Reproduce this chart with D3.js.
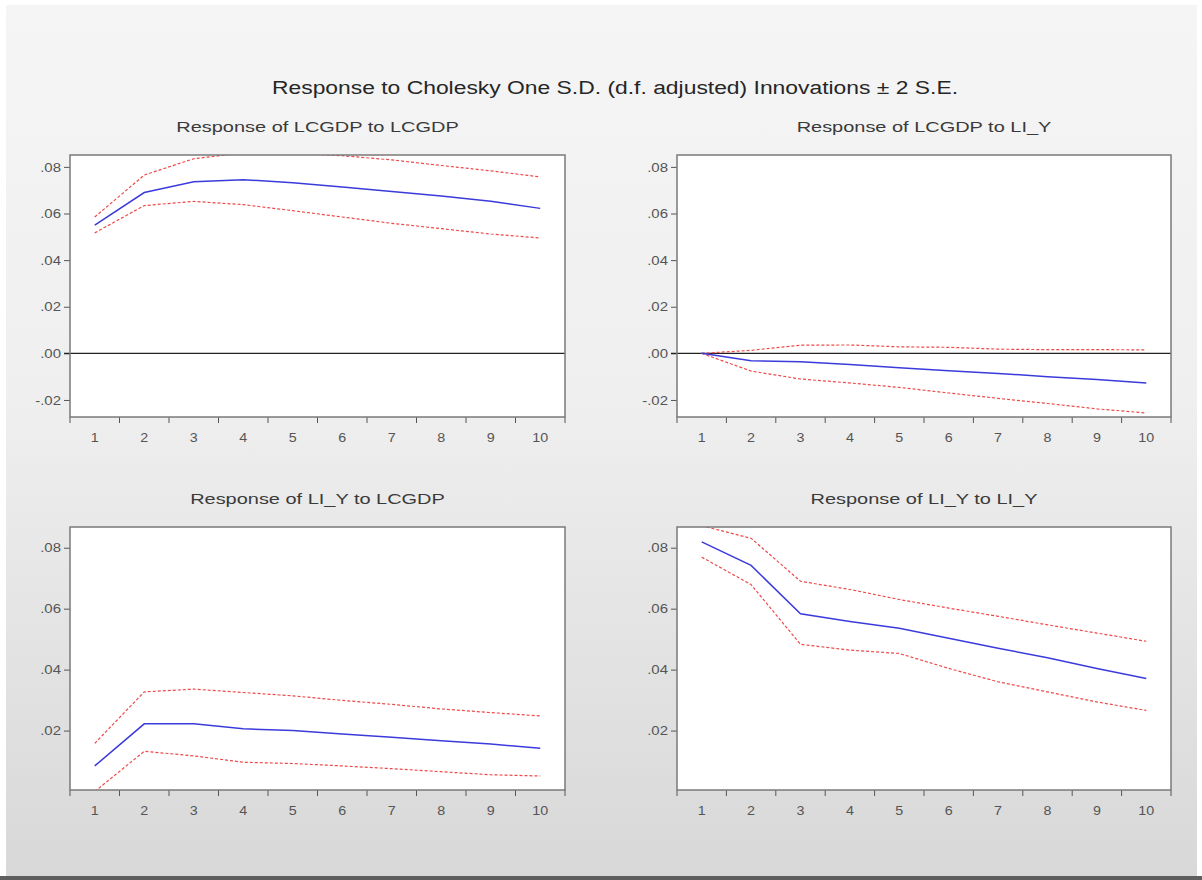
<!DOCTYPE html>
<html>
<head>
<meta charset="utf-8">
<script src="https://cdn.jsdelivr.net/npm/d3@7"></script>
<style>
  html, body { margin: 0; padding: 0; background: #ffffff; }
  svg { display: block; }
  text { font-family: "Liberation Sans", Arial, sans-serif; }
</style>
</head>
<body>
<svg id="chart" width="1202" height="880"></svg>
<script>
// ---------------- DATA ----------------
const periods = [1, 2, 3, 4, 5, 6, 7, 8, 9, 10];

const mainTitle = "Response to Cholesky One S.D. (d.f. adjusted) Innovations \u00b1 2 S.E.";
const panelTitles = [
  "Response of LCGDP to LCGDP",
  "Response of LCGDP to LI_Y",
  "Response of LI_Y to LCGDP",
  "Response of LI_Y to LI_Y"
];

// Response of LCGDP to LCGDP
const respLcgdpLcgdp = [0.0550, 0.0690, 0.0736, 0.0745, 0.0732, 0.0714, 0.0694, 0.0675, 0.0653, 0.0622];
const upperLcgdpLcgdp = [0.0585, 0.0765, 0.0835, 0.0860, 0.0858, 0.0848, 0.0830, 0.0806, 0.0783, 0.0757];
const lowerLcgdpLcgdp = [0.0517, 0.0634, 0.0652, 0.0638, 0.0612, 0.0585, 0.0558, 0.0535, 0.0512, 0.0495];

// Response of LCGDP to LI_Y
const respLcgdpLiy = [0.0000, -0.0032, -0.0036, -0.0048, -0.0062, -0.0075, -0.0086, -0.0100, -0.0112, -0.0127];
const upperLcgdpLiy = [0.0000, 0.0013, 0.0035, 0.0036, 0.0028, 0.0026, 0.0018, 0.0016, 0.0016, 0.0015];
const lowerLcgdpLiy = [0.0000, -0.0076, -0.0110, -0.0127, -0.0146, -0.0170, -0.0193, -0.0215, -0.0238, -0.0256];

// Response of LI_Y to LCGDP
const respLiyLcgdp = [0.0084, 0.0222, 0.0222, 0.0206, 0.0200, 0.0189, 0.0178, 0.0167, 0.0156, 0.0142];
const upperLiyLcgdp = [0.0158, 0.0327, 0.0336, 0.0325, 0.0314, 0.0299, 0.0286, 0.0271, 0.0259, 0.0248];
const lowerLiyLcgdp = [0.0000, 0.0132, 0.0117, 0.0096, 0.0092, 0.0084, 0.0075, 0.0065, 0.0055, 0.0051];

// Response of LI_Y to LI_Y
const respLiyLiy = [0.0819, 0.0742, 0.0583, 0.0558, 0.0536, 0.0503, 0.0470, 0.0439, 0.0404, 0.0371];
const upperLiyLiy = [0.0872, 0.0831, 0.0690, 0.0663, 0.0630, 0.0602, 0.0575, 0.0547, 0.0520, 0.0493];
const lowerLiyLiy = [0.0769, 0.0679, 0.0483, 0.0464, 0.0453, 0.0404, 0.0360, 0.0327, 0.0294, 0.0266];

// Axis settings
const topYDomain = [-0.0273, 0.0851];
const topYTicks = [-0.02, 0.00, 0.02, 0.04, 0.06, 0.08];
const bottomYDomain = [0.0005, 0.0868];
const bottomYTicks = [0.02, 0.04, 0.06, 0.08];

// ---------------- LAYOUT ----------------
const svg = d3.select("#chart");
const W = 1202, H = 880;

// background
const defs = svg.append("defs");
const grad = defs.append("linearGradient").attr("id", "bg").attr("x1", 0).attr("y1", 0).attr("x2", 0).attr("y2", 1);
grad.append("stop").attr("offset", "0%").attr("stop-color", "#f5f5f5");
grad.append("stop").attr("offset", "45%").attr("stop-color", "#efefef");
grad.append("stop").attr("offset", "100%").attr("stop-color", "#d8d8d8");
svg.append("rect").attr("x", 0).attr("y", 0).attr("width", W).attr("height", H).attr("fill", "#ffffff");
svg.append("rect").attr("x", 6).attr("y", 5).attr("width", 1191).attr("height", 871).attr("fill", "url(#bg)");
svg.append("rect").attr("x", 0).attr("y", 876).attr("width", W).attr("height", 4).attr("fill", "#5e5e5e");

function stretchText(sel, factor) {
  sel.each(function () {
    const n = this.getComputedTextLength();
    d3.select(this).attr("textLength", n * factor).attr("lengthAdjust", "spacingAndGlyphs");
  });
}

const fmt = v => {
  const s = d3.format(".2f")(Math.abs(v) < 1e-9 ? 0 : Math.abs(v));
  return (v < -1e-9 ? "-" : "") + s.replace(/^0\./, ".");
};

// main title
svg.append("text")
  .attr("x", 615).attr("y", 94)
  .attr("text-anchor", "middle")
  .attr("font-size", 18)
  .attr("fill", "#262626")
  .text(mainTitle)
  .call(stretchText, 1.27);

const panels = [
  { title: panelTitles[0], x0: 70, x1: 565, y0: 155, y1: 417, dom: topYDomain, ticks: topYTicks, zero: true,
    resp: respLcgdpLcgdp, up: upperLcgdpLcgdp, lo: lowerLcgdpLcgdp },
  { title: panelTitles[1], x0: 677, x1: 1171, y0: 155, y1: 417, dom: topYDomain, ticks: topYTicks, zero: true,
    resp: respLcgdpLiy, up: upperLcgdpLiy, lo: lowerLcgdpLiy },
  { title: panelTitles[2], x0: 70, x1: 565, y0: 527, y1: 790, dom: bottomYDomain, ticks: bottomYTicks, zero: false,
    resp: respLiyLcgdp, up: upperLiyLcgdp, lo: lowerLiyLcgdp },
  { title: panelTitles[3], x0: 677, x1: 1171, y0: 527, y1: 790, dom: bottomYDomain, ticks: bottomYTicks, zero: false,
    resp: respLiyLiy, up: upperLiyLiy, lo: lowerLiyLiy }
];

panels.forEach((p, i) => {
  const g = svg.append("g");
  const x = d3.scaleBand().domain(periods).range([p.x0, p.x1]).padding(0);
  const y = d3.scaleLinear().domain(p.dom).range([p.y1, p.y0]);

  // panel title
  g.append("text")
    .attr("x", (p.x0 + p.x1) / 2).attr("y", p.y0 - 23)
    .attr("text-anchor", "middle")
    .attr("font-size", 15)
    .attr("fill", "#3a3a3a")
    .text(p.title)
    .call(stretchText, 1.33);

  // plot area
  g.append("rect")
    .attr("x", p.x0).attr("y", p.y0)
    .attr("width", p.x1 - p.x0).attr("height", p.y1 - p.y0)
    .attr("fill", "#ffffff");

  const clipId = "clip" + i;
  defs.append("clipPath").attr("id", clipId)
    .append("rect").attr("x", p.x0).attr("y", p.y0)
    .attr("width", p.x1 - p.x0).attr("height", p.y1 - p.y0);

  // y axis
  const yAxis = d3.axisLeft(y).tickValues(p.ticks).tickFormat(fmt).tickSize(6).tickPadding(3);
  const ya = g.append("g").attr("transform", `translate(${p.x0},0)`).call(yAxis);
  ya.select(".domain").remove();
  ya.selectAll(".tick line").attr("stroke", "#555").attr("stroke-width", 1);
  ya.selectAll(".tick text").attr("font-size", 13).attr("fill", "#555")
    .attr("font-family", "'Liberation Sans', Arial, sans-serif")
    .call(stretchText, 1.15);

  // x axis: minor ticks at band edges, labels at band centers
  const edges = periods.map(d => x(d)).concat([p.x1]);
  g.append("g").selectAll("line").data(edges).join("line")
    .attr("x1", d => d).attr("x2", d => d)
    .attr("y1", p.y1).attr("y2", p.y1 + 6)
    .attr("stroke", "#555").attr("stroke-width", 1);
  g.append("g").selectAll("text").data(periods).join("text")
    .attr("x", d => x(d) + x.bandwidth() / 2)
    .attr("y", p.y1 + 25)
    .attr("text-anchor", "middle")
    .attr("font-size", 13)
    .attr("fill", "#555")
    .text(d => d)
    .call(stretchText, 1.1);

  // zero line
  if (p.zero) {
    g.append("line")
      .attr("x1", p.x0 - 6).attr("x2", p.x1)
      .attr("y1", y(0)).attr("y2", y(0))
      .attr("stroke", "#222").attr("stroke-width", 1.2);
  }

  const line = d3.line().x((d, k) => x(periods[k]) + x.bandwidth() / 2).y(d => y(d));
  const plot = g.append("g").attr("clip-path", `url(#${clipId})`);
  plot.append("path").attr("d", line(p.up))
    .attr("fill", "none").attr("stroke", "#ee4a4a").attr("stroke-width", 1.2)
    .attr("stroke-dasharray", "3,2");
  plot.append("path").attr("d", line(p.lo))
    .attr("fill", "none").attr("stroke", "#ee4a4a").attr("stroke-width", 1.2)
    .attr("stroke-dasharray", "3,2");
  plot.append("path").attr("d", line(p.resp))
    .attr("fill", "none").attr("stroke", "#3b3bdc").attr("stroke-width", 1.5);

  // frame
  g.append("rect")
    .attr("x", p.x0).attr("y", p.y0)
    .attr("width", p.x1 - p.x0).attr("height", p.y1 - p.y0)
    .attr("fill", "none").attr("stroke", "#7a7a7a").attr("stroke-width", 1.5);
});
</script>
</body>
</html>
